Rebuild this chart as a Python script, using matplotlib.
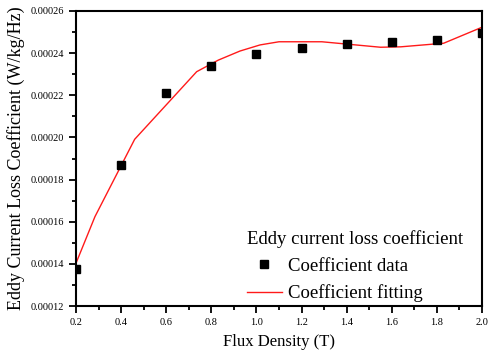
import matplotlib
matplotlib.use('Agg')
import matplotlib.pyplot as plt
from matplotlib.ticker import MultipleLocator, FormatStrFormatter

plt.rcParams['font.family'] = ['Liberation Serif', 'DejaVu Serif']

# measured coefficient data
flux = [0.2, 0.4, 0.6, 0.8, 1.0, 1.2, 1.4, 1.6, 1.8, 2.0]
coef = [0.0001377, 0.0001870, 0.0002212, 0.0002339, 0.0002394,
        0.0002423, 0.0002445, 0.0002454, 0.0002464, 0.0002497]

# fitted curve vertices
fit_x = [0.2, 0.284, 0.46, 0.735, 0.831, 0.927, 1.016, 1.10, 1.29,
         1.55, 1.64, 1.83, 2.0]
fit_y = [0.0001403, 0.0001624, 0.0001991, 0.0002312, 0.0002367, 0.0002410,
         0.0002439, 0.0002454, 0.0002454, 0.0002428, 0.0002430, 0.0002447,
         0.0002523]

fig = plt.figure(figsize=(4.9, 3.56), dpi=100)
ax = fig.add_axes([76 / 490, 50 / 356, 406 / 490, 295 / 356])

ax.plot(flux, coef, 's', color='black', markersize=6.2, zorder=3,
        label='Coefficient data')
ax.plot(fit_x, fit_y, '-', color='#ff1a1a', linewidth=1.0, zorder=2,
        label='Coefficient fitting')

ax.set_xlim(0.2, 2.0)
ax.set_ylim(0.00012, 0.00026)
ax.xaxis.set_major_locator(MultipleLocator(0.2))
ax.xaxis.set_minor_locator(MultipleLocator(0.1))
ax.yaxis.set_major_locator(MultipleLocator(0.00002))
ax.yaxis.set_minor_locator(MultipleLocator(0.00001))
ax.xaxis.set_major_formatter(FormatStrFormatter('%.1f'))
ax.yaxis.set_major_formatter(FormatStrFormatter('%.5f'))

ax.tick_params(which='both', direction='out', top=False, right=False,
               labelsize=7.5, width=1.3)
ax.tick_params(which='major', length=5)
ax.tick_params(which='minor', length=3)
for s in ax.spines.values():
    s.set_linewidth(1.5)

ax.set_xlabel('Flux Density (T)', fontsize=12, labelpad=5)
ax.set_ylabel('Eddy Current Loss Coefficient (W/kg/Hz)', fontsize=13,
              labelpad=4)

leg = ax.legend(title='Eddy current loss coefficient', loc='lower right',
                bbox_to_anchor=(0.98, -0.025), frameon=False, fontsize=13.5,
                title_fontsize=13.5, handlelength=1.9, handletextpad=0.3,
                borderaxespad=0.2, labelspacing=0.5)
leg._legend_box.align = 'left'

fig.savefig('out.png', dpi=100)
